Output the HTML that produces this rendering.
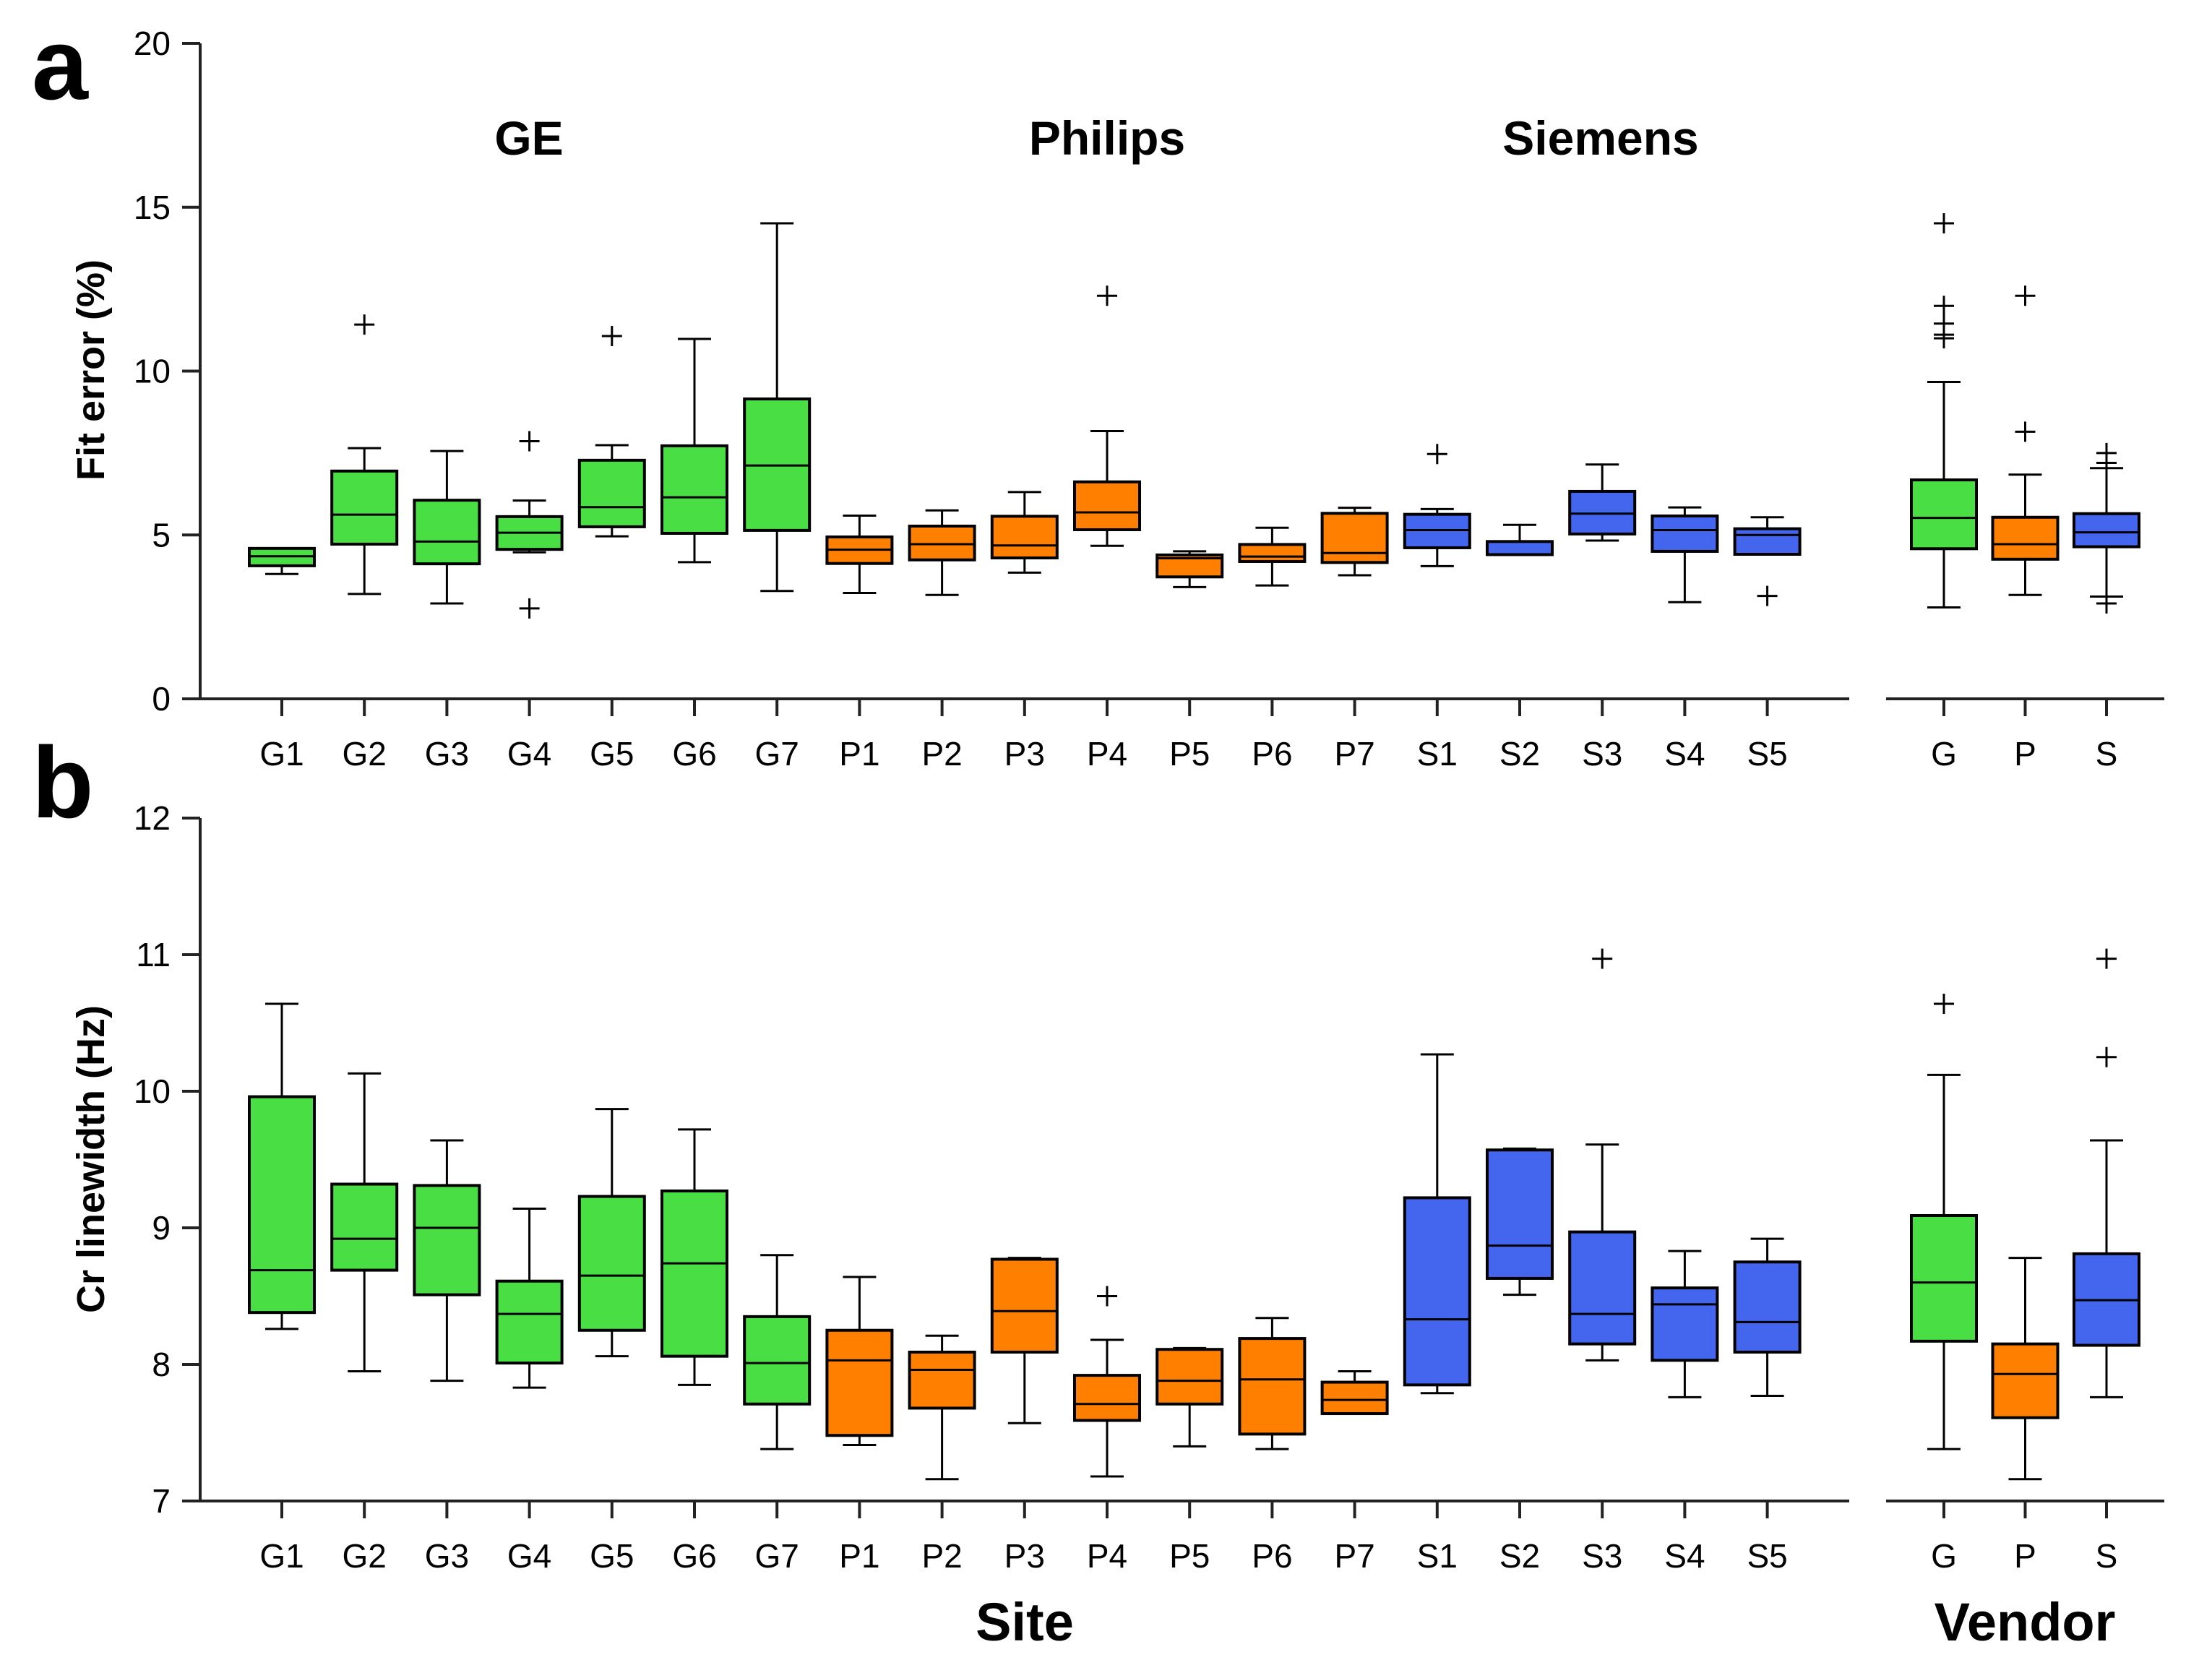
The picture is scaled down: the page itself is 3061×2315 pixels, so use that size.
<!DOCTYPE html>
<html><head><meta charset="utf-8"><style>
html,body{margin:0;padding:0;background:#fff;}
svg{display:block;font-family:"Liberation Sans",Arial,sans-serif;}
</style></head><body>
<svg id="fig" width="3061" height="2315" viewBox="0 0 3061 2315" xmlns="http://www.w3.org/2000/svg">
<text x="44" y="137" font-size="140" font-weight="bold">a</text>
<text x="44" y="1131" font-size="140" font-weight="bold">b</text>
<text x="732" y="214" font-size="66" font-weight="bold" text-anchor="middle">GE</text>
<text x="1532" y="214" font-size="66" font-weight="bold" text-anchor="middle">Philips</text>
<text x="2215" y="214" font-size="66" font-weight="bold" text-anchor="middle">Siemens</text>
<text transform="translate(144,512) rotate(-90)" font-size="54" font-weight="bold" text-anchor="middle">Fit error (%)</text>
<text transform="translate(144,1604) rotate(-90)" font-size="54" font-weight="bold" text-anchor="middle">Cr linewidth (Hz)</text>
<text x="1418" y="2270" font-size="74" font-weight="bold" text-anchor="middle">Site</text>
<text x="2802" y="2270" font-size="74" font-weight="bold" text-anchor="middle">Vendor</text>
<g id="plot"></g>
</svg>
<script>
const siteCats = ["G1","G2","G3","G4","G5","G6","G7","P1","P2","P3","P4","P5","P6","P7","S1","S2","S3","S4","S5"];
const vendorCats = ["G","P","S"];
const siteColorKey = ["g","g","g","g","g","g","g","p","p","p","p","p","p","p","s","s","s","s","s"];
const vendorColorKey = ["g","p","s"];
// Panel a: fit error (%)
const aLo  = [3.81,3.20,2.91,4.47,4.96,4.17,3.29,3.23,3.17,3.85,4.67,3.41,3.46,3.77,4.05,4.40,4.83,2.95,4.41];
const aQ1  = [4.06,4.72,4.12,4.56,5.25,5.05,5.14,4.13,4.24,4.30,5.16,3.72,4.19,4.16,4.61,4.40,5.03,4.50,4.41];
const aMed = [4.35,5.62,4.80,5.07,5.85,6.15,7.12,4.55,4.72,4.68,5.69,4.29,4.34,4.45,5.15,4.41,5.65,5.15,5.00];
const aQ3  = [4.59,6.95,6.06,5.56,7.28,7.72,9.15,4.94,5.27,5.57,6.62,4.39,4.71,5.66,5.63,4.80,6.33,5.58,5.19];
const aHi  = [4.59,7.65,7.56,6.05,7.74,10.98,14.51,5.59,5.75,6.31,8.17,4.50,5.22,5.83,5.79,5.31,7.15,5.84,5.54];
const aOut = [[],[11.42],[],[7.86,2.76],[11.07],[],[],[],[],[],[12.30],[],[],[],[7.47],[],[],[],[3.14]];
const aVLo  = [2.79,3.17,3.12];
const aVQ1  = [4.58,4.26,4.64];
const aVMed = [5.52,4.72,5.08];
const aVQ3  = [6.68,5.54,5.65];
const aVHi  = [9.67,6.84,7.04];
const aVOut = [[14.51,11.99,11.45,11.11,11.0],[12.30,8.15],[7.50,7.20,2.91]];
const aTicks = [0,5,10,15,20];
// Panel b: Cr linewidth (Hz)
const bLo  = [8.26,7.95,7.88,7.83,8.06,7.85,7.38,7.41,7.16,7.57,7.18,7.40,7.38,7.64,7.79,8.51,8.03,7.76,7.77];
const bQ1  = [8.38,8.69,8.51,8.01,8.25,8.06,7.71,7.48,7.68,8.09,7.59,7.71,7.49,7.64,7.85,8.63,8.15,8.03,8.09];
const bMed = [8.69,8.92,9.00,8.37,8.65,8.74,8.01,8.03,7.96,8.39,7.71,7.88,7.89,7.74,8.33,8.87,8.37,8.44,8.31];
const bQ3  = [9.96,9.32,9.31,8.61,9.23,9.27,8.35,8.25,8.09,8.77,7.92,8.11,8.19,7.87,9.22,9.57,8.97,8.56,8.75];
const bHi  = [10.64,10.13,9.64,9.14,9.87,9.72,8.80,8.64,8.21,8.78,8.18,8.12,8.34,7.95,10.27,9.58,9.61,8.83,8.92];
const bOut = [[],[],[],[],[],[],[],[],[],[],[8.50],[],[],[],[],[],[10.97],[],[]];
const bVLo  = [7.38,7.16,7.76];
const bVQ1  = [8.17,7.61,8.14];
const bVMed = [8.60,7.93,8.47];
const bVQ3  = [9.09,8.15,8.81];
const bVHi  = [10.12,8.78,9.64];
const bVOut = [[10.64],[],[10.97,10.25]];
const bTicks = [7,8,9,10,11,12];

const NS = "http://www.w3.org/2000/svg";
const root = document.getElementById("plot");
const COLORS = {g:"#4ade45", p:"#ff8000", s:"#4466ee"};
function mk(tag, attrs, parent){
  const e = document.createElementNS(NS, tag);
  for (const k in attrs) e.setAttribute(k, attrs[k]);
  (parent||root).appendChild(e);
  return e;
}
const siteX = i => 390 + 114.2*i;
const vendX = i => 2690 + 112.5*i;
function yA(v){ return 967 - 45.35*v; }
function yB(v){ return 2077 - 189*(v-7); }

function drawPanel(p, yFn, yTop, yBot, ticks, sets){
  const ya = mk("line",{x1:277,y1:yTop,x2:277,y2:yBot,stroke:"#222","stroke-width":4});
  
  
  ticks.forEach(t=>{
    const tl = mk("line",{x1:252,y1:yFn(t),x2:277,y2:yFn(t),stroke:"#222","stroke-width":4});
    
    
    const tx = mk("text",{x:236,y:yFn(t)+16,"font-size":46,"text-anchor":"end"});
    tx.textContent = t;
    
    
  });
  const xa1 = mk("line",{x1:252,y1:yBot,x2:2559,y2:yBot,stroke:"#222","stroke-width":4});
  
  
  const xa2 = mk("line",{x1:2610,y1:yBot,x2:2995,y2:yBot,stroke:"#222","stroke-width":4});
  
  
  sets.forEach(s=>{
    s.cats.forEach((c,i)=>{
      const x = s.xf(i);
      const tk = mk("line",{x1:x,y1:yBot,x2:x,y2:yBot+24,stroke:"#222","stroke-width":4});
      
      
      const lb = mk("text",{x:x,y:yBot+92,"font-size":46,"text-anchor":"middle"});
      lb.textContent = c;
      
      
      const g = mk("g",{});
      
      
      const hw = 45, cw = 23;
      const lo=yFn(s.lo[i]), q1=yFn(s.q1[i]), md=yFn(s.med[i]), q3=yFn(s.q3[i]), hi=yFn(s.hi[i]);
      mk("line",{x1:x,y1:hi,x2:x,y2:q3,stroke:"#000","stroke-width":3},g);
      mk("line",{x1:x,y1:q1,x2:x,y2:lo,stroke:"#000","stroke-width":3},g);
      mk("line",{x1:x-cw,y1:hi,x2:x+cw,y2:hi,stroke:"#000","stroke-width":3},g);
      mk("line",{x1:x-cw,y1:lo,x2:x+cw,y2:lo,stroke:"#000","stroke-width":3},g);
      mk("rect",{x:x-hw,y:q3,width:2*hw,height:Math.max(1,q1-q3),fill:COLORS[s.col[i]],stroke:"#000","stroke-width":4},g);
      mk("line",{x1:x-hw,y1:md,x2:x+hw,y2:md,stroke:"#000","stroke-width":3},g);
      s.out[i].forEach((v,k)=>{
        const oy = yFn(v);
        const o = mk("path",{d:`M${x-14},${oy}H${x+14}M${x},${oy-14}V${oy+14}`,stroke:"#000","stroke-width":3,fill:"none"});
        
        
      });
    });
  });
}
drawPanel("a", yA, 60, 967, aTicks, [
  {cats:siteCats, xf:siteX, col:siteColorKey, lo:aLo,q1:aQ1,med:aMed,q3:aQ3,hi:aHi,out:aOut},
  {cats:vendorCats, xf:vendX, col:vendorColorKey, lo:aVLo,q1:aVQ1,med:aVMed,q3:aVQ3,hi:aVHi,out:aVOut}
]);
drawPanel("b", yB, 1132, 2077, bTicks, [
  {cats:siteCats, xf:siteX, col:siteColorKey, lo:bLo,q1:bQ1,med:bMed,q3:bQ3,hi:bHi,out:bOut},
  {cats:vendorCats, xf:vendX, col:vendorColorKey, lo:bVLo,q1:bVQ1,med:bVMed,q3:bVQ3,hi:bVHi,out:bVOut}
]);
</script>
</body></html>
